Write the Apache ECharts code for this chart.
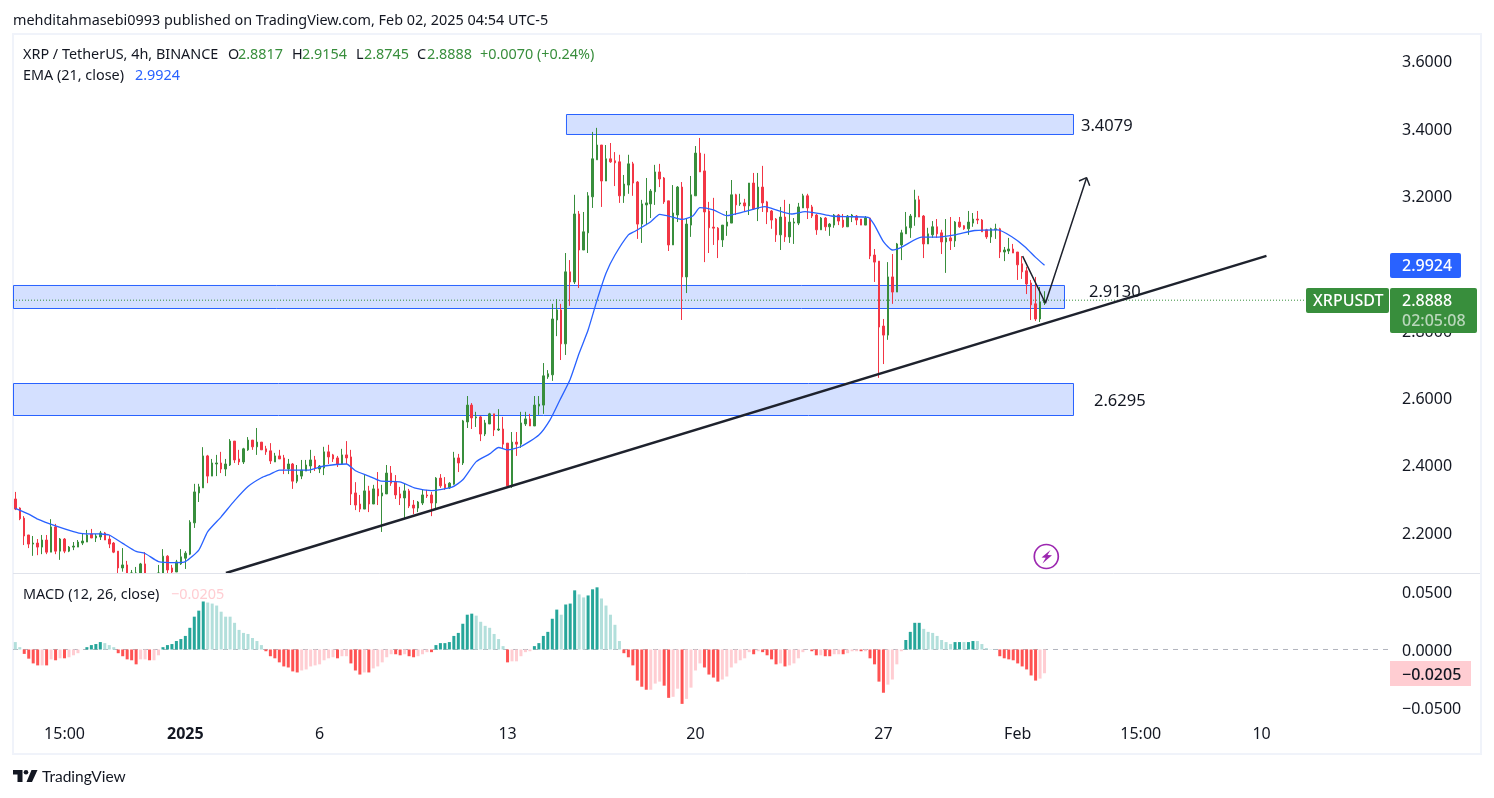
<!DOCTYPE html>
<html><head><meta charset="utf-8"><title>XRPUSDT</title>
<style>html,body{margin:0;padding:0;background:#fff}#c{width:1494px;height:798px}</style>
<script src="https://cdn.jsdelivr.net/npm/echarts@6/dist/echarts.min.js"></script>
</head><body><div id="c"></div>
<script>
const opens=[2.298,2.271,2.241,2.191,2.164,2.167,2.155,2.176,2.140,2.215,
2.143,2.179,2.143,2.155,2.155,2.167,2.170,2.194,2.182,2.185,
2.197,2.179,2.167,2.143,2.093,2.102,2.04,2.07,2.06,2.105,
2.06,2.03,2.05,2.06,2.128,2.093,2.081,2.105,2.122,2.134,
2.227,2.316,2.331,2.426,2.366,2.402,2.405,2.387,2.399,2.470,
2.417,2.408,2.444,2.473,2.453,2.467,2.447,2.441,2.408,2.426,
2.420,2.387,2.402,2.351,2.366,2.381,2.396,2.414,2.387,2.390,
2.438,2.429,2.420,2.402,2.429,2.423,2.316,2.283,2.268,2.322,
2.283,2.328,2.307,2.313,2.375,2.348,2.313,2.301,2.322,2.280,
2.271,2.286,2.310,2.310,2.286,2.360,2.342,2.331,2.342,2.420,
2.405,2.527,2.577,2.539,2.542,2.491,2.521,2.551,2.503,2.506,
2.464,2.337,2.467,2.461,2.521,2.536,2.515,2.574,2.577,2.661,
2.667,2.830,2.860,2.759,2.973,2.943,3.145,3.038,3.089,3.196,
3.306,3.350,3.243,3.309,3.303,3.300,3.199,3.231,3.294,3.240,
3.115,3.172,3.175,3.211,3.270,3.252,3.184,3.053,3.142,3.225,
2.958,3.112,3.199,3.326,3.273,3.154,3.106,3.103,3.068,3.109,
3.118,3.202,3.175,3.178,3.169,3.237,3.160,3.225,3.181,3.154,
3.130,3.083,3.136,3.077,3.118,3.118,3.163,3.199,3.166,3.142,
3.098,3.133,3.107,3.112,3.142,3.127,3.107,3.136,3.139,3.130,
3.112,3.133,3.023,3.005,2.812,2.785,2.958,2.913,3.053,3.086,
3.104,3.136,3.187,3.139,3.056,3.083,3.107,3.089,3.062,3.074,
3.065,3.121,3.110,3.101,3.118,3.130,3.127,3.098,3.077,3.098,
3.101,3.032,3.035,3.041,3.032,2.997,2.976,2.940,2.878,2.833,2.8817];
const closes=[2.268,2.239,2.188,2.164,2.167,2.155,2.176,2.140,2.215,2.143,
2.179,2.143,2.155,2.158,2.170,2.173,2.191,2.182,2.188,2.197,
2.176,2.164,2.140,2.093,2.102,2.067,2.06,2.04,2.105,2.06,
2.03,2.05,2.07,2.128,2.087,2.081,2.111,2.126,2.137,2.229,
2.319,2.334,2.426,2.366,2.405,2.405,2.387,2.402,2.470,2.414,
2.408,2.447,2.473,2.453,2.467,2.444,2.438,2.411,2.426,2.417,
2.387,2.402,2.351,2.369,2.384,2.399,2.414,2.390,2.396,2.438,
2.423,2.417,2.402,2.429,2.420,2.313,2.280,2.268,2.322,2.283,
2.328,2.307,2.316,2.375,2.345,2.310,2.301,2.322,2.277,2.271,
2.289,2.310,2.307,2.286,2.360,2.337,2.331,2.345,2.420,2.405,
2.530,2.577,2.539,2.542,2.491,2.524,2.551,2.503,2.506,2.461,
2.337,2.467,2.461,2.524,2.536,2.515,2.577,2.580,2.664,2.670,
2.833,2.860,2.759,2.973,2.943,3.145,3.038,3.092,3.199,3.309,
3.350,3.243,3.309,3.300,3.297,3.199,3.234,3.294,3.237,3.115,
3.175,3.178,3.213,3.270,3.249,3.181,3.053,3.148,3.225,2.958,
3.115,3.202,3.326,3.270,3.151,3.104,3.103,3.068,3.112,3.121,
3.202,3.172,3.178,3.169,3.237,3.160,3.225,3.178,3.151,3.127,
3.083,3.136,3.077,3.121,3.121,3.166,3.199,3.163,3.139,3.098,
3.133,3.107,3.115,3.142,3.124,3.107,3.139,3.142,3.127,3.112,
3.133,3.020,3.002,2.809,2.785,2.958,2.913,3.056,3.089,3.107,
3.139,3.187,3.136,3.056,3.086,3.107,3.086,3.062,3.074,3.065,
3.121,3.107,3.101,3.121,3.130,3.127,3.092,3.077,3.101,3.101,
3.032,3.038,3.041,3.029,2.994,2.973,2.937,2.875,2.833,2.884,2.8888];
const highs=[2.319,2.273,2.247,2.191,2.188,2.179,2.191,2.191,2.238,2.224,
2.182,2.182,2.158,2.170,2.176,2.197,2.206,2.209,2.194,2.203,
2.200,2.191,2.170,2.143,2.152,2.114,2.087,2.096,2.108,2.140,
2.07,2.07,2.102,2.149,2.131,2.102,2.117,2.149,2.143,2.235,
2.343,2.343,2.452,2.429,2.417,2.429,2.438,2.417,2.476,2.470,
2.444,2.450,2.482,2.473,2.509,2.467,2.456,2.464,2.435,2.444,
2.429,2.417,2.405,2.399,2.414,2.414,2.444,2.426,2.399,2.453,
2.459,2.432,2.426,2.447,2.470,2.444,2.348,2.310,2.369,2.337,
2.340,2.378,2.340,2.399,2.396,2.369,2.334,2.343,2.328,2.295,
2.292,2.325,2.325,2.319,2.363,2.372,2.363,2.348,2.438,2.432,
2.533,2.604,2.583,2.557,2.545,2.533,2.554,2.551,2.565,2.542,
2.464,2.497,2.497,2.557,2.557,2.551,2.604,2.604,2.702,2.681,
2.878,2.892,2.878,3.029,3.008,3.202,3.154,3.151,3.210,3.389,
3.401,3.350,3.350,3.356,3.329,3.321,3.261,3.321,3.300,3.243,
3.187,3.252,3.219,3.291,3.294,3.255,3.184,3.231,3.228,3.240,
3.133,3.258,3.347,3.371,3.324,3.181,3.193,3.106,3.112,3.154,
3.246,3.205,3.205,3.190,3.237,3.267,3.267,3.288,3.184,3.157,
3.133,3.166,3.187,3.175,3.133,3.178,3.205,3.205,3.172,3.145,
3.136,3.136,3.118,3.145,3.145,3.145,3.142,3.145,3.142,3.130,
3.139,3.133,3.041,3.005,2.833,3.002,3.026,3.059,3.098,3.151,
3.145,3.217,3.199,3.142,3.104,3.124,3.130,3.098,3.130,3.136,
3.124,3.136,3.112,3.154,3.148,3.154,3.130,3.101,3.104,3.116,
3.104,3.047,3.074,3.056,3.032,3.020,2.988,2.949,2.958,2.928,2.9154];
const lows=[2.265,2.235,2.161,2.152,2.129,2.131,2.134,2.134,2.140,2.134,
2.117,2.137,2.140,2.146,2.155,2.161,2.170,2.182,2.170,2.176,
2.176,2.152,2.137,2.06,2.082,2.05,2.03,2.03,2.05,2.04,
2.02,2.02,2.03,2.05,2.072,2.072,2.081,2.102,2.090,2.131,
2.212,2.289,2.331,2.345,2.366,2.366,2.375,2.366,2.396,2.405,
2.399,2.402,2.441,2.444,2.429,2.444,2.429,2.402,2.408,2.417,
2.372,2.372,2.328,2.345,2.357,2.381,2.375,2.381,2.375,2.369,
2.402,2.408,2.393,2.402,2.402,2.280,2.265,2.259,2.268,2.259,
2.283,2.280,2.200,2.313,2.337,2.298,2.280,2.238,2.271,2.253,
2.259,2.280,2.301,2.247,2.268,2.331,2.325,2.328,2.340,2.378,
2.399,2.509,2.506,2.512,2.470,2.485,2.521,2.485,2.500,2.447,
2.337,2.331,2.426,2.450,2.515,2.515,2.515,2.548,2.551,2.655,
2.649,2.782,2.711,2.726,2.872,2.937,2.925,3.038,3.029,3.163,
3.306,3.166,3.243,3.297,3.228,3.178,3.178,3.205,3.199,3.071,
3.059,3.112,3.133,3.172,3.225,3.175,3.035,3.053,3.121,2.830,
2.910,3.077,3.199,3.270,3.002,3.029,3.053,3.014,3.047,3.080,
3.118,3.142,3.169,3.151,3.142,3.157,3.124,3.151,3.115,3.101,
3.062,3.038,3.062,3.059,3.056,3.112,3.163,3.130,3.133,3.083,
3.098,3.095,3.080,3.104,3.112,3.104,3.107,3.121,3.112,3.112,
3.112,3.011,2.943,2.658,2.699,2.771,2.878,2.913,3.008,3.086,
3.074,3.110,3.136,3.014,3.056,3.074,3.074,3.026,2.970,3.038,
3.047,3.104,3.098,3.083,3.107,3.115,3.092,3.071,3.059,3.071,
3.014,3.005,3.026,3.029,2.949,2.952,2.907,2.830,2.827,2.824,2.8745];
const emaBars=[0,3,5,9,13,15,19,21,24,27,29,32,36,38,41,43,46,49,52,55,57,59,62,65.6,69,74,76,79,81.5,85.9,89.4,93,97.6,100,103,106,108,110,113,117,119.5,121.7,124,126,128,130,132,134,137,138.4,142,144,146,149,151.4,153,156,159,163,167.5,170.5,173.5,176.5,179.4,182.4,186,190.6,192,194,196,198,202.5,205.5,210,214.4,219.6,222.6,225.6,228,230];
const emaValues=[2.270,2.253,2.238,2.218,2.201,2.195,2.194,2.191,2.166,2.142,2.136,2.112,2.109,2.112,2.146,2.201,2.245,2.293,2.335,2.361,2.372,2.384,2.384,2.384,2.396,2.402,2.382,2.366,2.352,2.349,2.330,2.323,2.333,2.355,2.409,2.432,2.451,2.444,2.454,2.488,2.533,2.592,2.654,2.731,2.800,2.889,2.969,3.023,3.083,3.093,3.122,3.144,3.139,3.129,3.139,3.164,3.157,3.140,3.152,3.167,3.155,3.145,3.152,3.147,3.139,3.137,3.135,3.112,3.063,3.038,3.046,3.076,3.076,3.083,3.096,3.098,3.078,3.048,3.016,2.9924];
const macdHist=[.0064,.0020,-.0038,-.0079,-.0120,-.0137,-.0137,-.0137,-.0085,-.0093,
-.0076,-.0076,-.0067,-.0050,-.0032,-.0001,.0020,.0038,.0047,.0064,
.0055,.0038,.0020,-.0032,-.0058,-.0085,-.0093,-.0128,-.0085,-.0085,
-.0093,-.0093,-.0050,.0020,.0038,.0047,.0073,.0090,.0117,.0187,
.0283,.0335,.0414,.0405,.0396,.0379,.0326,.0283,.0283,.0230,
.0169,.0143,.0134,.0099,.0073,.0038,-.0015,-.0058,-.0076,-.0111,
-.0146,-.0155,-.0189,-.0198,-.0181,-.0172,-.0146,-.0137,-.0128,-.0093,
-.0076,-.0067,-.0076,-.0058,-.0058,-.0120,-.0181,-.0216,-.0198,-.0198,
-.0163,-.0146,-.0111,-.0067,-.0041,-.0041,-.0050,-.0041,-.0058,-.0067,
-.0058,-.0041,-.0023,-.0023,.0038,.0055,.0055,.0064,.0117,.0143,
.0222,.0300,.0309,.0292,.0239,.0204,.0187,.0134,.0090,.0029,
-.0111,-.0102,-.0102,-.0058,-.0023,-.0015,.0029,.0055,.0117,.0152,
.0265,.0344,.0300,.0388,.0396,.0510,.0475,.0449,.0466,.0519,
.0536,.0440,.0379,.0300,.0213,.0073,-.0032,-.0067,-.0137,-.0268,
-.0321,-.0347,-.0347,-.0294,-.0277,-.0312,-.0417,-.0408,-.0338,-.0469,
-.0426,-.0329,-.0181,-.0120,-.0155,-.0216,-.0242,-.0277,-.0259,-.0233,
-.0155,-.0120,-.0093,-.0076,-.0023,-.0041,-.0015,-.0023,-.0050,-.0085,
-.0128,-.0120,-.0146,-.0137,-.0120,-.0076,-.0023,-.0002,-.0015,-.0050,
-.0050,-.0058,-.0058,-.0041,-.0041,-.0041,-.0032,-.0015,-.0015,-.0015,
-.0015,-.0076,-.0128,-.0277,-.0373,-.0303,-.0259,-.0128,-.0015,.0082,
.0152,.0230,.0230,.0178,.0152,.0143,.0117,.0082,.0064,.0047,
.0064,.0064,.0064,.0064,.0073,.0073,.0047,.0012,.0002,.0002,
-.0058,-.0076,-.0085,-.0093,-.0120,-.0146,-.0172,-.0224,-.0268,-.0251,-.0205];
const macdFaded=("1100001010"+"1011110000"+"1110000011"+"0110000000"+"0001111111"+"1111110000"+"0000111111"+"1101100010"+"1111100100"+"1110000000"+"0001111111"+"0111110000"+"0010001100"+"0111110000"+"0011100110"+"1111000011"+"1111101000"+"0101111100"+"1001101110"+"1000011110"+"0001111111"+"0010011111"+"00000000011");
const priceTicks=[2.2,2.4,2.6,2.8,3.0,3.2,3.4,3.6];
const macdTicks=[-0.05,0,0.05];
const timeTickBars=[11,38,68,110,152,194,224,251.5,278.5];
const timeTickLabels=["15:00","2025","6","13","20","27","Feb","15:00","10"];
const lastPrice=2.8888;
const trendBars=[47.07,279.6], trendPrices=[2.078,3.0203];
const arrowBars=[225.1,230.2,239.4], arrowPrices=[3.020,2.8797,3.2530];
const arrowHeadBars=[237.7,239.4,240.1], arrowHeadPrices=[3.2430,3.2530,3.2290];
const xMin=-0.514,xMax=307.2,yMin=2.078,yMax=3.677;

const FONT='"Noto Sans","Open Sans",sans-serif';
const INK='#131722';
const clampY=v=>Math.max(v,yMin);
const data=opens.map((o,i)=>[i,clampY(o),clampY(closes[i]),clampY(lows[i]),highs[i]]).filter(d=>d[4]>yMin);
const GREEN='#388e3c',RED='#f23645',BLUE='#2962ff';
function macdColor(v,i){const f=macdFaded[i]==='1';return v>=0?(f?'#b2dfdb':'#26a69a'):(f?'#ffcdd2':'#ff5252');}
function pairs(a,b){return a.map((x,i)=>[x,b[i]]);}
function area(x0,x1,y0,y1){return [{xAxis:x0,yAxis:y0},{xAxis:x1,yAxis:y1}];}

function txt(text,x,y,size,fill,weight){
  return {type:'text',z:100,x:x,y:y+1,style:{text:text,fill:fill||INK,font:(weight||'normal')+' '+size+'px '+FONT,verticalAlign:'middle'}};
}
function box(x,y,w,h,fill,r){return {type:'rect',z:99,shape:{x:x,y:y,width:w,height:h,r:r||0},style:{fill:fill}};}
const S=14.4;
const graphics=[
 {type:'rect',z:0,silent:true,shape:{x:13,y:34,width:1468,height:720},style:{fill:'none',stroke:'#f0f3fa',lineWidth:2}},
 {type:'line',z:50,shape:{x1:13,y1:573.5,x2:1480,y2:573.5},style:{stroke:'#e0e3eb',lineWidth:1}},
 txt('mehditahmasebi0993 published on TradingView.com, Feb 02, 2025 04:54 UTC-5',13,20,S,INK),
 txt('XRP / TetherUS, 4h, BINANCE',23,54,S,INK),
 txt('O',228,54,S,INK),txt('2.8817',238,54,S,GREEN),
 txt('H',292,54,S,INK),txt('2.9154',302,54,S,GREEN),
 txt('L',356,54,S,INK),txt('2.8745',364,54,S,GREEN),
 txt('C',417,54,S,INK),txt('2.8888',427,54,S,GREEN),
 txt('+0.0070 (+0.24%)',480,54,S,GREEN),
 txt('EMA (21, close)',23,75,S,INK),txt('2.9924',135,75,S,BLUE),
 txt('MACD (12, 26, close)',23,594,S,INK),txt('−0.0205',171,594,S,'#ffcdd2'),
 txt('3.4079',1081,125,16.5,INK),txt('2.9130',1089,291,16.5,INK),txt('2.6295',1094,400,16.5,INK),
 box(1390,253,71,25,BLUE,2),txt('2.9924',1402,265.5,16,'#fff','500'),
 box(1306,288,83,25,GREEN,2),txt('XRPUSDT',1313,300.5,16,'#fff','500'),
 box(1390,288,87,45,GREEN,2),txt('2.8888',1402,300.5,16,'#fff','500'),txt('02:05:08',1402,320.5,16,'rgba(255,255,255,.65)','500'),
 box(1390,661,81,25,'#ffcdd2',0),txt('−0.0205',1402,674,16,INK,'500'),
 {type:'circle',z:60,shape:{cx:1046.3,cy:556.5,r:12},style:{fill:'#fff',stroke:'#9c27b0',lineWidth:1.7}},
 {type:'polygon',z:61,shape:{points:[[1050.5,550],[1041.5,557.5],[1045.7,557.8],[1042.5,563.5],[1052,555.3],[1047.5,555]]},style:{fill:'#9c27b0'}},
 {type:'polygon',z:60,shape:{points:[[13,770],[22.5,770],[22.5,782],[17.5,782],[17.5,774.5],[13,774.5]]},style:{fill:INK}},
 {type:'circle',z:60,shape:{cx:26,cy:772.2,r:2.3},style:{fill:INK}},
 {type:'polygon',z:60,shape:{points:[[31.5,770],[37.5,770],[32,782],[26.5,782]]},style:{fill:INK}},
 {type:'text',z:60,x:42,y:777,style:{text:'TradingView',fill:INK,font:'normal 15.5px Lato,'+FONT,verticalAlign:'middle'}}
];

const chart=echarts.init(document.getElementById('c'),null,{renderer:'canvas'});
const hiddenAxis={show:true,axisLine:{show:false},axisTick:{show:false},splitLine:{show:false}};
const yLabel={margin:12,align:'left',formatter:v=>'{a|'+(v<0?'−':'')+Math.abs(v).toFixed(4)+'}',
  rich:{a:{fontSize:16,fontFamily:FONT,color:INK,padding:[4,0,0,0]}}};
chart.setOption({
 animation:false,backgroundColor:'#fff',
 grid:[{left:13,top:35,width:1377,height:538},{left:13,top:574,width:1377,height:146}],
 xAxis:[
  Object.assign({type:'value',gridIndex:0,min:xMin,max:xMax,axisLabel:{show:false}},hiddenAxis),
  Object.assign({type:'value',gridIndex:1,min:xMin,max:xMax,axisLabel:{
    customValues:timeTickBars,margin:6,fontSize:16,fontFamily:FONT,color:INK,hideOverlap:false,
    formatter:v=>{const t=timeTickLabels[timeTickBars.indexOf(v)];return t==='2025'?'{b|2025}':t;},
    rich:{b:{fontWeight:'bold',fontSize:16,fontFamily:FONT,color:INK}}
  }},hiddenAxis)
 ],
 yAxis:[
  Object.assign({type:'value',gridIndex:0,position:'right',min:yMin,max:yMax,axisLabel:Object.assign({customValues:priceTicks},yLabel)},hiddenAxis),
  Object.assign({type:'value',gridIndex:1,position:'right',min:-0.0608,max:0.0651,axisLabel:Object.assign({customValues:macdTicks},yLabel)},hiddenAxis)
 ],
 series:[
  {type:'candlestick',xAxisIndex:0,yAxisIndex:0,z:2,barWidth:2,clip:true,
   encode:{x:0,y:[1,2,3,4]},data:data,
   itemStyle:{color:GREEN,color0:RED,borderColor:GREEN,borderColor0:RED,borderColorDoji:GREEN,borderWidth:1},
   markArea:{silent:true,z:1,itemStyle:{color:'rgba(41,98,255,0.2)',borderColor:BLUE,borderWidth:1},
    data:[area(123.17,236.47,3.4407,3.3813),area(-0.402,234.46,2.9325,2.8641),area(-0.402,236.47,2.6412,2.5461)]}},
  {type:'line',xAxisIndex:0,yAxisIndex:0,z:3,showSymbol:false,smooth:0.2,data:pairs(emaBars,emaValues),lineStyle:{color:BLUE,width:1.3}},
  {type:'line',xAxisIndex:0,yAxisIndex:0,z:2,showSymbol:false,data:[[xMin,lastPrice],[288.4,lastPrice]],lineStyle:{color:GREEN,width:1,type:[1,2]}},
  {type:'line',xAxisIndex:0,yAxisIndex:0,z:4,showSymbol:false,data:pairs(trendBars,trendPrices),lineStyle:{color:'#1e222d',width:2.4}},
  {type:'line',xAxisIndex:0,yAxisIndex:0,z:4,showSymbol:false,data:pairs(arrowBars,arrowPrices),lineStyle:{color:'#1e222d',width:1.5}},
  {type:'line',xAxisIndex:0,yAxisIndex:0,z:4,showSymbol:false,data:pairs(arrowHeadBars,arrowHeadPrices),lineStyle:{color:'#1e222d',width:1.5}},
  {type:'line',xAxisIndex:1,yAxisIndex:1,z:1,showSymbol:false,data:[[xMin,0],[xMax,0]],lineStyle:{color:'#b2b5be',width:1,type:[5,5]}},
  {type:'bar',xAxisIndex:1,yAxisIndex:1,z:2,barWidth:3,
   data:macdHist.map((v,i)=>({value:[i,v],itemStyle:{color:macdColor(v,i)}}))}
 ],
 graphic:graphics
});
</script></body></html>
